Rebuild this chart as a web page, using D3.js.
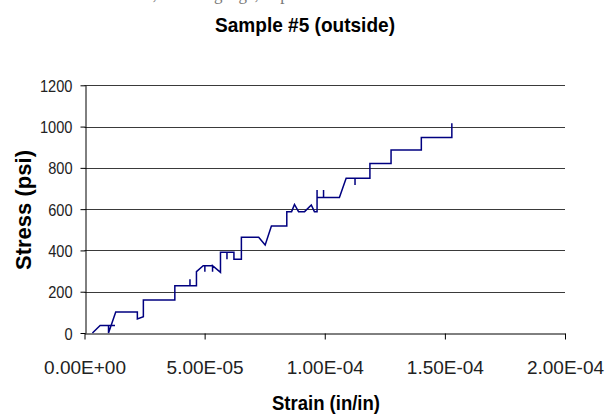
<!DOCTYPE html>
<html>
<head>
<meta charset="utf-8">
<script src="https://cdn.jsdelivr.net/npm/d3@7"></script>
<style>
  body { margin: 0; background: #fff; }
</style>
</head>
<body>
<svg id="chart" width="607" height="414"></svg>
<script>
// strain (in/in) and stress (psi)
const strain = [
  0.33e-5, 0.65e-5, 1.27e-5, 1.00e-5, 1.00e-5, 1.30e-5, 2.20e-5, 2.20e-5, 2.45e-5, 2.45e-5,
  3.76e-5, 3.76e-5, 4.39e-5, 4.39e-5, 4.39e-5, 4.66e-5, 4.66e-5, 4.94e-5, 5.01e-5, 5.01e-5,
  5.01e-5, 5.33e-5, 5.33e-5, 5.33e-5, 5.66e-5, 5.66e-5, 5.93e-5, 5.93e-5, 5.93e-5, 6.22e-5,
  6.22e-5, 6.53e-5, 6.53e-5, 7.25e-5, 7.52e-5, 7.78e-5, 8.42e-5, 8.42e-5, 8.62e-5, 8.74e-5,
  8.91e-5, 9.16e-5, 9.44e-5, 9.57e-5, 9.68e-5, 9.68e-5, 9.68e-5, 9.95e-5, 9.95e-5, 9.95e-5,
  10.61e-5, 10.89e-5, 11.26e-5, 11.26e-5, 11.26e-5, 11.88e-5, 11.88e-5, 12.76e-5, 12.76e-5, 14.02e-5,
  14.02e-5, 15.29e-5, 15.29e-5
];
const stress = [
  0, 36, 36, 36, 0, 102, 102, 68, 79, 160,
  160, 229, 229, 260, 229, 229, 297, 326, 326, 297,
  326, 326, 297, 326, 294, 391, 391, 357, 391, 391,
  357, 357, 464, 464, 426, 518, 518, 588, 588, 623,
  588, 588, 620, 588, 588, 693, 656, 656, 693, 656,
  656, 750, 750, 717, 750, 750, 821, 821, 887, 887,
  947, 947, 1016
];

const xTicks = [0, 5e-5, 1e-4, 1.5e-4, 2e-4];
const xTickLabels = ["0.00E+00", "5.00E-05", "1.00E-04", "1.50E-04", "2.00E-04"];
const yTicks = [0, 200, 400, 600, 800, 1000, 1200];

const svg = d3.select("#chart");

const x = d3.scaleLinear().domain([0, 2e-4]).range([84.5, 565]);
const y = d3.scaleLinear().domain([0, 1200]).range([333, 85.3]);

// texte coupé en haut de la page (seul le bas des lettres dépasse)
svg.append("text")
    .attr("x", 47).attr("y", 0)
    .attr("textLength", 253).attr("lengthAdjust", "spacingAndGlyphs")
    .style("font-family", "'Liberation Serif', 'Times New Roman', serif")
    .style("font-size", "17px")
    .style("fill", "#777")
    .text("Stress vs. strain, outside gauge, in psi");

// titre
svg.append("text")
    .attr("x", 305).attr("y", 32.3)
    .attr("text-anchor", "middle")
    .attr("textLength", 180).attr("lengthAdjust", "spacingAndGlyphs")
    .style("font-family", "'Liberation Sans', Arial, sans-serif")
    .style("font-size", "21px").style("font-weight", "bold")
    .text("Sample #5 (outside)");

// lignes de grille horizontales
svg.append("g").attr("class", "grid")
  .selectAll("line")
  .data(yTicks.filter(d => d > 0))
  .join("line")
    .attr("x1", x(0)).attr("x2", x(2e-4))
    .attr("y1", d => Math.round(y(d)) + 0.5).attr("y2", d => Math.round(y(d)) + 0.5)
    .attr("stroke", "#3a3a3a").attr("stroke-width", 1);

// axe X
const xAxis = svg.append("g")
    .attr("transform", `translate(0,${Math.round(y(0)) + 0.5})`)
    .call(d3.axisBottom(x).tickValues(xTicks).tickSize(6).tickSizeOuter(0)
        .tickFormat((d, i) => xTickLabels[i]));
xAxis.select(".domain").attr("stroke", "#000");
xAxis.selectAll(".tick line").attr("stroke", "#000");
xAxis.selectAll("text")
    .attr("y", 40).attr("dy", 0)
    .style("font-family", "'Liberation Sans', Arial, sans-serif")
    .style("font-size", "19px").style("fill", "#222");

// axe Y (libellés un peu étroits, sans séparateur de milliers)
const yAxis = svg.append("g")
    .attr("transform", `translate(${Math.round(x(0)) + 0.5},0)`)
    .call(d3.axisLeft(y).tickValues(yTicks).tickSize(5).tickSizeOuter(0)
        .tickFormat(d3.format("d")));
yAxis.select(".domain").attr("stroke", "#000");
yAxis.selectAll(".tick line").attr("stroke", "#000");
yAxis.selectAll("text")
    .attr("x", -13 / 0.86).attr("dy", "0.36em")
    .attr("transform", "scale(0.86,1)")
    .style("font-family", "'Liberation Sans', Arial, sans-serif")
    .style("font-size", "17px").style("fill", "#222");

// courbe contrainte / déformation
const line = d3.line()
    .x(i => x(strain[i]))
    .y(i => y(stress[i]));

svg.append("path")
    .datum(d3.range(strain.length))
    .attr("d", line)
    .attr("fill", "none")
    .attr("stroke", "#000080")
    .attr("stroke-width", 1.5);

// titres des axes
svg.append("text")
    .attr("x", 326).attr("y", 409.5)
    .attr("text-anchor", "middle")
    .attr("textLength", 108).attr("lengthAdjust", "spacingAndGlyphs")
    .style("font-family", "'Liberation Sans', Arial, sans-serif")
    .style("font-size", "20px").style("font-weight", "bold")
    .text("Strain (in/in)");

svg.append("text")
    .attr("transform", "translate(30.5,210) rotate(-90)")
    .attr("text-anchor", "middle")
    .attr("textLength", 120).attr("lengthAdjust", "spacing")
    .style("font-family", "'Liberation Sans', Arial, sans-serif")
    .style("font-size", "22px").style("font-weight", "bold")
    .text("Stress (psi)");
</script>
</body>
</html>
